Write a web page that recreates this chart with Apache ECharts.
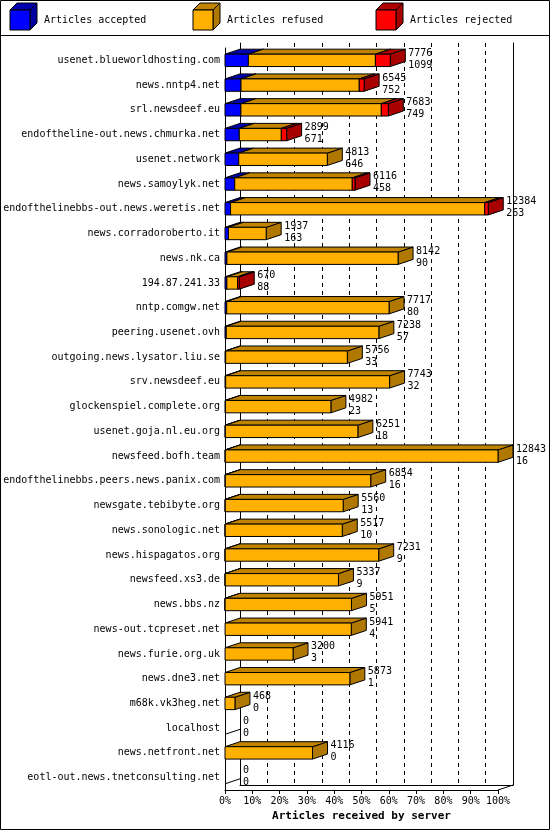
<!DOCTYPE html>
<html><head><meta charset="utf-8">
<script src="https://cdn.jsdelivr.net/npm/echarts@6/dist/echarts.min.js"></script>
<style>html,body{margin:0;padding:0;background:#fff}#c{width:550px;height:830px}</style>
</head><body><div id="c"></div>
<script>
const servers = ["usenet.blueworldhosting.com","news.nntp4.net","srl.newsdeef.eu","endoftheline-out.news.chmurka.net","usenet.network","news.samoylyk.net","endofthelinebbs-out.news.weretis.net","news.corradoroberto.it","news.nk.ca","194.87.241.33","nntp.comgw.net","peering.usenet.ovh","outgoing.news.lysator.liu.se","srv.newsdeef.eu","glockenspiel.complete.org","usenet.goja.nl.eu.org","newsfeed.bofh.team","endofthelinebbs.peers.news.panix.com","newsgate.tebibyte.org","news.sonologic.net","news.hispagatos.org","newsfeed.xs3.de","news.bbs.nz","news-out.tcpreset.net","news.furie.org.uk","news.dne3.net","m68k.vk3heg.net","localhost","news.netfront.net","eotl-out.news.tnetconsulting.net"];
const offered  = [7776,6545,7683,2899,4813,6116,12384,1937,8142,670,7717,7238,5756,7743,4982,6251,12843,6854,5560,5517,7231,5337,5951,5941,3200,5873,468,0,4116,0];
const accepted = [1099,752,749,671,646,458,263,163,90,88,80,57,33,32,23,18,16,16,13,10,9,9,5,4,3,1,0,0,0,0];
const rejected = [700,230,330,250,0,130,165,0,0,80,0,0,0,0,0,0,0,0,0,0,0,0,0,0,0,0,0,0,0,0];
const refused  = [5977,5563,6604,1978,4167,5528,11956,1774,8052,502,7637,7181,5723,7711,4959,6233,12827,6838,5547,5507,7222,5328,5946,5937,3197,5872,468,0,4116,0];
const tickLabels = ["0%","10%","20%","30%","40%","50%","60%","70%","80%","90%","100%"];
const AXMAX = 12843;
const DX = 15, DY = 5;
const FONT = "DejaVu Sans Mono";

const segs = [
  {name:"Articles accepted", vals:accepted, front:"#0000ff", top:"#0000b0", side:"#0000a0"},
  {name:"Articles refused", vals:refused, front:"#ffb000", top:"#c08400", side:"#b07800"},
  {name:"Articles rejected", vals:rejected, front:"#ff0000", top:"#b00000", side:"#a80000"}
];
const cum = servers.map(()=>0);
const series = segs.map((s, si) => {
  const data = s.vals.map((v, i) => { const a = cum[i]; cum[i] += v; return [a, a+v, i]; });
  return {
    type:'custom', name:s.name, xAxisIndex:0, yAxisIndex:0,
    encode:{x:[0,1], y:2},
    data,
    renderItem(params, api) {
      const i = api.value(2);
      const p0 = api.coord([api.value(0), i]);
      const p1 = api.coord([api.value(1), i]);
      const h = api.size([0,1])[1] * 0.5;
      const yT = p0[1] - h/2, yB = p0[1] + h/2;
      const x0 = p0[0], x1 = p1[0];
      const children = [];
      const st = {stroke:'#000', lineWidth:1};
      if (x1 - x0 > 0.1) {
        children.push({type:'polygon', shape:{points:[[x1,yT],[x1+DX,yT-DY],[x1+DX,yB-DY],[x1,yB]]}, style:Object.assign({fill:s.side}, st)});
        children.push({type:'polygon', shape:{points:[[x0,yT],[x1,yT],[x1+DX,yT-DY],[x0+DX,yT-DY]]}, style:Object.assign({fill:s.top}, st)});
        children.push({type:'rect', shape:{x:x0, y:yT, width:x1-x0, height:yB-yT}, style:Object.assign({fill:s.front}, st)});
      }
      if (si === 2) {
        const xe = api.coord([offered[i] > 0 ? api.value(1) : 0, i])[0];
        children.push({type:'text', style:{text: offered[i] + "\n" + accepted[i], x: Math.max(xe + DX + 3, 243), y: yT - DY - 2, fill:'#000', font:'10px ' + FONT, lineHeight:12}});
        if (offered[i] === 0) {
          children.push({type:'line', shape:{x1:x0, y1:yB, x2:x0+DX, y2:yB-DY}, style:{stroke:'#000'}});
        }
      }
      return {type:'group', children};
    }
  };
});

const legendG = [];
const lx = [10, 193, 376];
segs.forEach((s, k) => {
  const x = lx[k], y = 10;
  legendG.push({type:'polygon', shape:{points:[[x+20,y],[x+27,y-7],[x+27,y+13],[x+20,y+20]]}, style:{fill:s.side, stroke:'#000'}});
  legendG.push({type:'polygon', shape:{points:[[x,y],[x+20,y],[x+27,y-7],[x+7,y-7]]}, style:{fill:s.top, stroke:'#000'}});
  legendG.push({type:'rect', shape:{x:x, y:y, width:20, height:20}, style:{fill:s.front, stroke:'#000'}});
  legendG.push({type:'text', style:{text:s.name, x:x+34, y:y+5, fill:'#000', font:'10px ' + FONT}});
});
legendG.push({type:'rect', shape:{x:0.5, y:0.5, width:549, height:829}, style:{fill:'none', stroke:'#000'}});
legendG.push({type:'line', shape:{x1:0, y1:35.5, x2:550, y2:35.5}, style:{stroke:'#000'}});
legendG.push({type:'line', shape:{x1:498, y1:790, x2:513, y2:785}, style:{stroke:'#000'}});

const chart = echarts.init(document.getElementById('c'), null, {renderer:'canvas'});
chart.setOption({
  animation:false,
  grid:[
    {left:225, right:52, top:48, bottom:40, outerBoundsMode:'none', containLabel:false},
    {left:240, right:37, top:43, bottom:45, outerBoundsMode:'none', containLabel:false}
  ],
  xAxis:[
    {type:'value', gridIndex:0, min:0, max:AXMAX, interval:AXMAX/10,
     axisLine:{show:true, lineStyle:{color:'#000'}}, axisTick:{show:true, length:4, lineStyle:{color:'#000'}}, splitLine:{show:false},
     axisLabel:{color:'#000', fontFamily:FONT, fontSize:10, margin:6, formatter:(v)=>tickLabels[Math.round(v/AXMAX*10)]},
     name:'Articles received by server', nameLocation:'middle', nameGap:20,
     nameTextStyle:{color:'#000', fontFamily:FONT, fontSize:11, fontWeight:'bold'}},
    {type:'value', gridIndex:1, min:0, max:AXMAX, interval:AXMAX/10,
     axisLine:{show:true, lineStyle:{color:'#000'}}, axisTick:{show:false}, axisLabel:{show:false},
     splitLine:{show:true, lineStyle:{color:'#000', type:[4,4]}}}
  ],
  yAxis:[
    {type:'category', gridIndex:0, data:servers, inverse:true,
     axisLine:{show:true, lineStyle:{color:'#000'}}, axisTick:{show:false},
     axisLabel:{color:'#000', fontFamily:FONT, fontSize:10, margin:5}},
    {type:'value', gridIndex:1, position:'left', axisLine:{show:true, lineStyle:{color:'#000'}}, axisTick:{show:false}, axisLabel:{show:false}, splitLine:{show:false}},
    {type:'value', gridIndex:1, position:'right', axisLine:{show:true, lineStyle:{color:'#000'}}, axisTick:{show:false}, axisLabel:{show:false}, splitLine:{show:false}}
  ],
  graphic: legendG,
  series
});
</script></body></html>
